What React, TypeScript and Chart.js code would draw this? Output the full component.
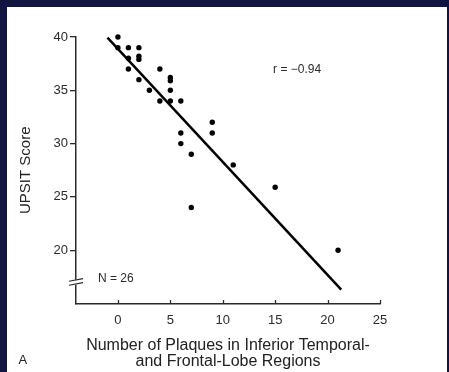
import React, { useEffect, useRef } from 'react';
import { Chart, registerables } from 'chart.js';

Chart.register(...registerables);

// Data
const plaques = [0, 0, 1, 2, 1, 2, 2, 1, 4, 2, 3, 5, 5, 5, 4, 5, 6, 6, 6, 9, 9, 7, 11, 15, 7, 21];
const upsit = [40, 39, 39, 39, 38, 38.2, 37.9, 37, 37, 36, 35, 36.2, 35.9, 35, 34, 34, 34, 31, 30, 32, 31, 29, 28, 25.9, 24, 20];
const fitX = [-1, 21.3];
const fitY = [39.95, 16.3];
const xTicks = [0, 5, 10, 15, 20, 25];
const yTicks = [20, 25, 30, 35, 40];
const xTitle = ['Number of Plaques in Inferior Temporal-', 'and Frontal-Lobe Regions'];
const yTitle = 'UPSIT Score';
const rLabel = 'r = \u22120.94';
const rPos = [14.8, 36.9];
const nLabel = 'N = 26';
const nPos = [-1.9, 17.3];
const panelLabel = 'A';
const yBreak = 17;

const FONT = "'Liberation Sans', Arial, Helvetica, sans-serif";
const NAVY = '#10143e';
const INK = '#2b2b2b';

const decorPlugin = {
  id: 'decor',
  beforeDraw(chart: any) {
    const { ctx, width, height } = chart;
    ctx.save();
    ctx.fillStyle = NAVY;
    ctx.fillRect(0, 0, width, height);
    ctx.fillStyle = '#ffffff';
    ctx.fillRect(7, 7, width - 9, height - 7);
    ctx.restore();
  },
  afterDraw(chart: any) {
    const { ctx, chartArea } = chart;
    const xs = chart.scales.x;
    const ys = chart.scales.y;
    ctx.save();
    // inward x ticks
    ctx.strokeStyle = INK;
    ctx.lineWidth = 1.3;
    for (const v of xTicks) {
      const px = Math.round(xs.getPixelForValue(v)) + 0.5;
      ctx.beginPath();
      ctx.moveTo(px, chartArea.bottom);
      ctx.lineTo(px, chartArea.bottom - 3.5);
      ctx.stroke();
    }
    // y-axis break
    const ax = chartArea.left;
    const yb = ys.getPixelForValue(yBreak);
    ctx.fillStyle = '#ffffff';
    ctx.fillRect(ax - 2, yb - 2.5, 4, 5);
    ctx.strokeStyle = INK;
    ctx.lineWidth = 1.2;
    ctx.beginPath();
    ctx.moveTo(ax - 7, yb - 0.9);
    ctx.lineTo(ax + 7, yb - 3.5);
    ctx.moveTo(ax - 7, yb + 3.1);
    ctx.lineTo(ax + 7, yb + 0.5);
    ctx.stroke();
    // annotations
    ctx.fillStyle = INK;
    ctx.font = `12px ${FONT}`;
    ctx.textAlign = 'left';
    ctx.textBaseline = 'middle';
    ctx.fillText(rLabel, xs.getPixelForValue(rPos[0]), ys.getPixelForValue(rPos[1]));
    ctx.fillText(nLabel, xs.getPixelForValue(nPos[0]), ys.getPixelForValue(nPos[1]));
    ctx.fillStyle = '#222222';
    ctx.font = `13px ${FONT}`;
    ctx.fillText(panelLabel, 18.5, 360);
    ctx.restore();
  },
};

export default function App() {
  const ref = useRef<HTMLCanvasElement>(null);

  useEffect(() => {
    if (!ref.current) return;
    const chart = new Chart(ref.current, {
      type: 'scatter',
      data: {
        datasets: [
          {
            data: plaques.map((x, i) => ({ x, y: upsit[i] })),
            pointRadius: 2.7,
            pointBackgroundColor: '#000000',
            pointBorderWidth: 0,
            showLine: false,
            clip: false,
          },
          {
            data: fitX.map((x, i) => ({ x, y: fitY[i] })),
            showLine: true,
            pointRadius: 0,
            borderColor: '#000000',
            borderWidth: 2.5,
            clip: false,
          },
        ],
      },
      options: {
        responsive: false,
        animation: false,
        devicePixelRatio: 1,
        layout: { padding: { left: 16, top: 37, right: 69, bottom: 2.5 } },
        plugins: {
          legend: { display: false },
          tooltip: { enabled: false },
        },
        scales: {
          x: {
            type: 'linear',
            min: -4,
            max: 25,
            afterBuildTicks: (s: any) => {
              s.ticks = xTicks.map((v) => ({ value: v }));
            },
            afterFit: (s: any) => {
              s.height = 66;
            },
            grid: { display: true, drawOnChartArea: false, drawTicks: false },
            border: { display: true, color: INK, width: 1.5 },
            ticks: { color: INK, font: { family: FONT, size: 13 }, padding: 9 },
            title: {
              display: true,
              text: xTitle,
              color: '#222222',
              font: { family: FONT, size: 16, lineHeight: 1 },
              padding: { top: 0, bottom: 0 },
            },
          },
          y: {
            type: 'linear',
            min: 15,
            max: 40,
            afterBuildTicks: (s: any) => {
              s.ticks = yTicks.map((v) => ({ value: v }));
            },
            afterFit: (s: any) => {
              s.width = 60;
            },
            grid: {
              display: true,
              drawOnChartArea: false,
              drawTicks: true,
              tickLength: 6,
              color: INK,
              lineWidth: 1.3,
            },
            border: { display: true, color: INK, width: 1.5 },
            ticks: { color: INK, font: { family: FONT, size: 13 }, padding: 2 },
            title: {
              display: true,
              text: yTitle,
              color: '#222222',
              font: { family: FONT, size: 15, lineHeight: 1.2 },
              padding: { top: 1, bottom: 0 },
            },
          },
        },
      },
      plugins: [decorPlugin],
    });
    return () => chart.destroy();
  }, []);

  return (
    <div style={{ position: 'absolute', left: 0, top: 0, width: 449, height: 372 }}>
      <canvas ref={ref} width={449} height={372} style={{ display: 'block' }} />
    </div>
  );
}
